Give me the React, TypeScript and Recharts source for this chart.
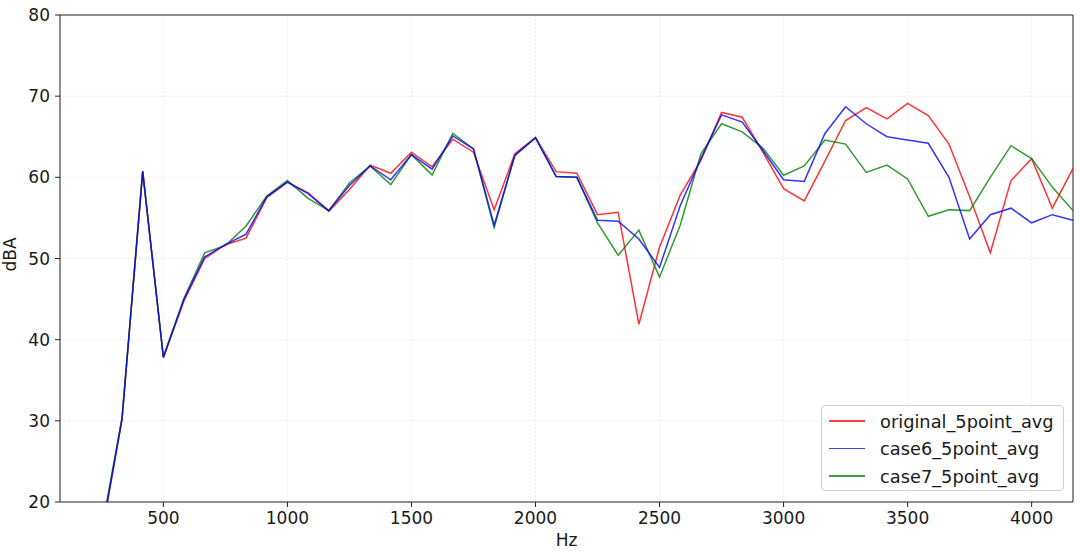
import React from "react";
import { LineChart, Line, XAxis, YAxis, CartesianGrid, Legend, ReferenceLine } from "recharts";

const freqHz = [
  250, 333.33, 416.67, 500, 583.33, 666.67, 750, 833.33, 916.67, 1000,
  1083.33, 1166.67, 1250, 1333.33, 1416.67, 1500, 1583.33, 1666.67, 1750, 1833.33,
  1916.67, 2000, 2083.33, 2166.67, 2250, 2333.33, 2416.67, 2500, 2583.33, 2666.67,
  2750, 2833.33, 2916.67, 3000, 3083.33, 3166.67, 3250, 3333.33, 3416.67, 3500,
  3583.33, 3666.67, 3750, 3833.33, 3916.67, 4000, 4083.33, 4166.67,
];

const original5 = [
  15.8, 30.2, 60.8, 37.8, 44.8, 50.0, 51.7, 52.5, 57.5, 59.4,
  58.1, 55.8, 58.5, 61.5, 60.5, 63.1, 61.3, 64.7, 63.1, 56.0,
  62.9, 64.9, 60.7, 60.5, 55.4, 55.7, 41.9, 51.4, 57.8, 62.1,
  68.0, 67.4, 63.1, 58.6, 57.1, 62.0, 67.0, 68.6, 67.2, 69.1,
  67.6, 64.1, 57.6, 50.7, 59.6, 62.3, 56.2, 61.1,
];

const case6 = [
  15.8, 30.2, 60.7, 37.8, 45.0, 50.2, 51.7, 53.0, 57.6, 59.4,
  58.0, 55.9, 59.0, 61.4, 59.7, 62.8, 61.0, 65.1, 63.5, 54.1,
  62.7, 64.9, 60.1, 60.0, 54.7, 54.6, 52.4, 48.9, 56.5, 62.3,
  67.7, 66.8, 63.3, 59.7, 59.5, 65.4, 68.7, 66.6, 65.0, 64.6,
  64.2, 60.0, 52.4, 55.4, 56.2, 54.4, 55.4, 54.7,
];

const case7 = [
  16.4, 30.4, 60.7, 37.9, 45.1, 50.7, 51.6, 54.0, 57.7, 59.6,
  57.4, 55.9, 59.3, 61.4, 59.1, 62.8, 60.3, 65.4, 63.5, 53.8,
  62.7, 64.9, 60.1, 60.0, 54.4, 50.4, 53.5, 47.7, 54.1, 62.9,
  66.6, 65.6, 63.6, 60.25, 61.4, 64.6, 64.1, 60.6, 61.5, 59.8,
  55.2, 56.0, 55.9, 60.0, 63.9, 62.3, 58.8, 55.9,
];

const xTicks = [500, 1000, 1500, 2000, 2500, 3000, 3500, 4000];
const yTicks = [20, 30, 40, 50, 60, 70, 80];

const seriesDefs = [
  { key: "original_5point_avg", values: original5, color: "#ff0000" },
  { key: "case6_5point_avg", values: case6, color: "#0000ff" },
  { key: "case7_5point_avg", values: case7, color: "#008000" },
];

// drawing order: blue ends up on top
const drawOrder = [0, 2, 1];

const data = freqHz.map((hz, i) => {
  const row: Record<string, number> = { hz };
  seriesDefs.forEach((s) => {
    row[s.key] = s.values[i];
  });
  return row;
});

const FONT = "'DejaVu Sans', sans-serif";
const TEXT = "#1a1a1a";

const LegendBox = () => (
  <div
    style={{
      position: "absolute",
      left: 0,
      top: 0,
      width: 243,
      height: 86,
      border: "1px solid #d0d0d0",
      borderRadius: 4,
      background: "rgba(255,255,255,0.85)",
      boxSizing: "border-box",
      fontFamily: FONT,
      fontSize: 17.8,
      color: TEXT,
    }}
  >
    {seriesDefs.map((s, i) => (
      <div
        key={s.key}
        style={{
          position: "absolute",
          left: 7,
          top: 15 + i * 27.5 - 11,
          height: 22,
          display: "flex",
          alignItems: "center",
          whiteSpace: "nowrap",
        }}
      >
        <div
          style={{
            width: 36,
            height: 1.5,
            background: s.color,
            opacity: 0.75,
            marginRight: 15,
            flex: "none",
          }}
        />
        <span>{s.key}</span>
      </div>
    ))}
  </div>
);

export default function App() {
  return (
    <div style={{ position: "absolute", left: 0, top: 0, width: 1080, height: 552, background: "#fff" }}>
      <LineChart
        width={1080}
        height={552}
        data={data}
        margin={{ top: 15, right: 7, bottom: 0, left: 0 }}
      >
        <CartesianGrid stroke="#e4e4e4" strokeDasharray="2 2" strokeWidth={0.8} />
        <XAxis
          dataKey="hz"
          type="number"
          domain={[83.33, 4166.67]}
          ticks={xTicks}
          allowDataOverflow
          height={50}
          tickSize={5}
          tickMargin={5}
          stroke="#222"
          tick={{ fill: TEXT, fontSize: 17, fontFamily: FONT }}
          label={{ value: "Hz", position: "insideBottom", offset: 6, fill: TEXT, fontSize: 17, fontFamily: FONT }}
        />
        <YAxis
          type="number"
          domain={[20, 80]}
          ticks={yTicks}
          allowDataOverflow
          width={60}
          tickSize={5}
          tickMargin={5}
          stroke="#222"
          tick={{ fill: TEXT, fontSize: 17, fontFamily: FONT }}
          label={{ value: "dBA", angle: -90, position: "insideLeft", offset: 0, dx: 10, dy: -4, fill: TEXT, fontSize: 17, fontFamily: FONT, style: { textAnchor: "middle" } }}
        />
        <ReferenceLine y={80} stroke="#222" strokeWidth={1} />
        <ReferenceLine x={4166.67} stroke="#222" strokeWidth={1} />
        {drawOrder.map((idx) => {
          const s = seriesDefs[idx];
          return (
            <Line
              key={s.key}
              type="linear"
              dataKey={s.key}
              stroke={s.color}
              strokeOpacity={0.8}
              strokeWidth={1.5}
              dot={false}
              activeDot={false}
              isAnimationActive={false}
            />
          );
        })}
        <Legend
          layout="vertical"
          align="center"
          verticalAlign="middle"
          wrapperStyle={{ left: 821, top: 405, width: 243, height: 86 }}
          content={() => <LegendBox />}
        />
      </LineChart>
    </div>
  );
}
